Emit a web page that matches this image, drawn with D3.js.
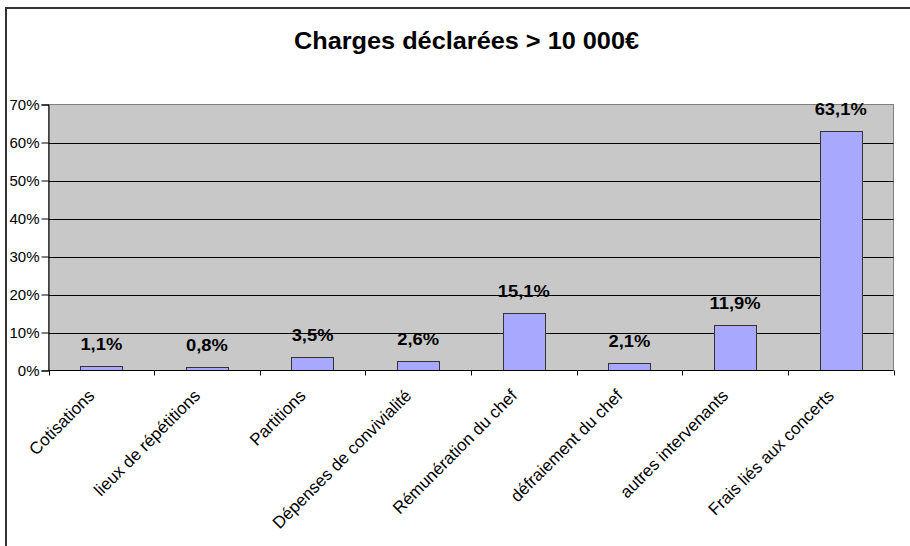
<!DOCTYPE html>
<html><head><meta charset="utf-8">
<script src="https://cdn.jsdelivr.net/npm/d3@7"></script>
<style>body{margin:0;background:#fff}svg{display:block;font-family:"Liberation Sans",Arial,sans-serif}</style>
</head><body><svg id="c" width="910" height="546"></svg>
<script>
const title = "Charges déclarées > 10 000€";
const categories = ["Cotisations","lieux de répétitions","Partitions","Dépenses de convivialité","Rémunération du chef","défraiement du chef","autres intervenants","Frais liés aux concerts"];
const values = [1.1, 0.8, 3.5, 2.6, 15.1, 2.1, 11.9, 63.1];
const valueLabels = ["1,1%","0,8%","3,5%","2,6%","15,1%","2,1%","11,9%","63,1%"];
const yTicks = [0,10,20,30,40,50,60,70];

const svg = d3.select("#c");
const L = 48.5, R = 893.5, T = 104.5, B = 370.5;

// outer frame (left & top visible)
svg.append("path").attr("d", `M6,546 V8 H910`).attr("fill","none").attr("stroke","#333").attr("stroke-width",2);

svg.append("text").attr("transform","translate(466.5,49) scale(1.1,1)").attr("text-anchor","middle")
  .attr("font-size",23).attr("font-weight","bold").text(title);

const x = d3.scaleBand().domain(categories).range([L, R]);
const y = d3.scaleLinear().domain([0,70]).range([B, T]);

svg.append("rect").attr("x",L).attr("y",T).attr("width",R-L).attr("height",B-T)
  .attr("fill","#c8c8c8").attr("stroke","#808080").attr("stroke-width",1);

svg.append("g").selectAll("line").data(yTicks.filter(d=>d>0&&d<70)).join("line")
  .attr("x1",L).attr("x2",R).attr("y1",d=>Math.round(y(d))+0.5).attr("y2",d=>Math.round(y(d))+0.5)
  .attr("stroke","#000").attr("stroke-width",1);

const bw = x.bandwidth()*0.4;
svg.append("g").selectAll("rect").data(values).join("rect")
  .attr("x",(d,i)=>Math.round(x(categories[i])+x.bandwidth()/2-bw/2)+0.5)
  .attr("y",d=>Math.round(y(d))+0.5)
  .attr("width",Math.round(bw))
  .attr("height",d=>B-Math.round(y(d))-0.5)
  .attr("fill","#a8a8ff").attr("stroke","#333").attr("stroke-width",1);

svg.append("g").selectAll("text").data(values).join("text")
  .attr("transform",(d,i)=>`translate(${x(categories[i])+x.bandwidth()/2},${y(d)-16}) scale(1.08,1)`)
  .attr("text-anchor","middle").attr("font-size",17).attr("font-weight","bold")
  .text((d,i)=>valueLabels[i]);

// y axis
const ya = svg.append("g").attr("transform",`translate(${L},0)`)
  .call(d3.axisLeft(y).tickValues(yTicks).tickSize(7).tickFormat(d=>d+"%"));
ya.select(".domain").attr("stroke","#000");
ya.selectAll("line").attr("stroke","#000");
ya.selectAll("text").attr("font-size",15).attr("font-family","Liberation Sans, Arial, sans-serif").attr("fill","#000").attr("x",-9);

// x axis
const xa = svg.append("g").attr("transform",`translate(0,${B})`)
  .call(d3.axisBottom(x).tickSize(0).tickFormat(""));
xa.select(".domain").attr("stroke","#000").attr("d",`M${L},0H${R}`);
svg.append("g").selectAll("line").data(d3.range(categories.length+1)).join("line")
  .attr("x1",i=>Math.round(L + i*x.step())+0.5).attr("x2",i=>Math.round(L + i*x.step())+0.5)
  .attr("y1",B).attr("y2",B+5).attr("stroke","#000");

svg.append("g").selectAll("text").data(categories).join("text")
  .attr("transform",d=>`translate(${x(d)+x.bandwidth()/2-10},${B+22}) rotate(-45)`)
  .attr("text-anchor","end").attr("font-size",17).attr("dy","0.35em").text(d=>d);
</script></body></html>
